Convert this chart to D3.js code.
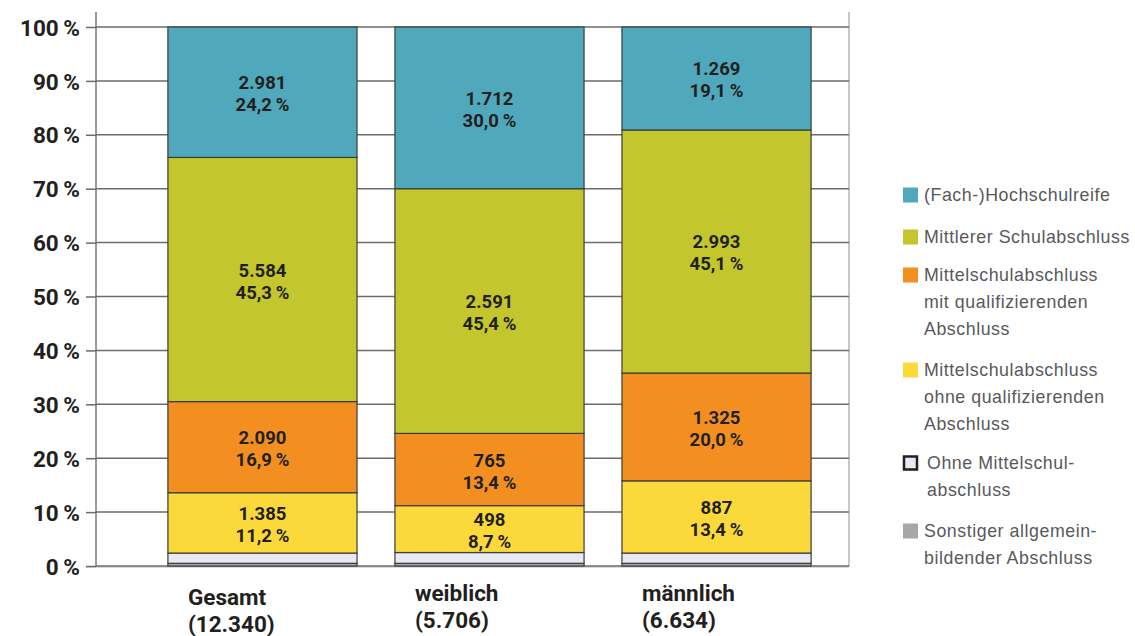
<!DOCTYPE html>
<html>
<head>
<meta charset="utf-8">
<script src="https://cdn.jsdelivr.net/npm/d3@7"></script>
<style>
  body { margin: 0; background: #fff; }
  svg { display: block; font-family: Roboto, "Liberation Sans", sans-serif; }
</style>
</head>
<body>
<div id="chart"></div>
<script>
const groups = ["Gesamt", "weiblich", "männlich"];
const groupTotals = ["(12.340)", "(5.706)", "(6.634)"];
const seriesNames = [
  "Sonstiger allgemein-|bildender Abschluss",
  "Ohne Mittelschul-|abschluss",
  "Mittelschulabschluss|ohne qualifizierenden|Abschluss",
  "Mittelschulabschluss|mit qualifizierenden|Abschluss",
  "Mittlerer Schulabschluss",
  "(Fach-)Hochschulreife"
];
const colors = ["#a7a7a7", "#e9e9f3", "#fbd93b", "#f28f20", "#c4c62d", "#4fa8bb"];
// percent values per series (bottom to top), one per group
const sonstigerPct = [0.5, 0.5, 0.5];
const ohnePct = [1.9, 2.0, 1.9];
const ohneQualiPct = [11.2, 8.7, 13.4];
const mitQualiPct = [16.9, 13.4, 20.0];
const mittlererPct = [45.3, 45.4, 45.1];
const hochschulPct = [24.2, 30.0, 19.1];
// absolute counts (labelled segments only)
const ohneQualiN = ["1.385", "498", "887"];
const mitQualiN = ["2.090", "765", "1.325"];
const mittlererN = ["5.584", "2.591", "2.993"];
const hochschulN = ["2.981", "1.712", "1.269"];
const yTicks = [0, 10, 20, 30, 40, 50, 60, 70, 80, 90, 100];

const pctSeries = [sonstigerPct, ohnePct, ohneQualiPct, mitQualiPct, mittlererPct, hochschulPct];
const countSeries = [null, null, ohneQualiN, mitQualiN, mittlererN, hochschulN];

const W = 1135, H = 636;
const svg = d3.select("#chart").append("svg").attr("width", W).attr("height", H);

const y = d3.scaleLinear().domain([0, 100]).range([566, 27]);
const x = d3.scaleBand().domain(groups).range([130, 849]).paddingInner(0.167).paddingOuter(0.167);

// frame lines
svg.append("line").attr("x1", 96).attr("x2", 96).attr("y1", 12).attr("y2", 566)
  .attr("stroke", "#7a7a7a").attr("stroke-width", 1.5);
svg.append("line").attr("x1", 849).attr("x2", 849).attr("y1", 12).attr("y2", 567)
  .attr("stroke", "#b5b5b5").attr("stroke-width", 1.5);
svg.append("line").attr("x1", 86).attr("x2", 849).attr("y1", 567).attr("y2", 567)
  .attr("stroke", "#cfcfcf").attr("stroke-width", 1.5);

// y axis
const yAxis = svg.append("g").attr("transform", "translate(96,0)")
  .call(d3.axisLeft(y).tickValues(yTicks).tickSize(10).tickPadding(6).tickFormat(d => d + "\u2009%"));
yAxis.select(".domain").remove();
yAxis.selectAll(".tick line").attr("stroke", "#6b6b6b").attr("stroke-width", 1.5);
yAxis.selectAll(".tick text").attr("font-size", 22.5).attr("font-weight", 700).attr("fill", "#231f20")
  .attr("font-family", "Roboto, sans-serif").attr("dy", "0.36em");

// gridlines
svg.append("g").selectAll("line").data(yTicks).join("line")
  .attr("x1", 96).attr("x2", 849).attr("y1", d => y(d)).attr("y2", d => y(d))
  .attr("stroke", "#6b6b6b").attr("stroke-width", 1.5);

// stacked data
const rows = groups.map((g, i) => {
  const r = { group: g };
  pctSeries.forEach((s, k) => r["s" + k] = s[i]);
  return r;
});
const keys = pctSeries.map((s, k) => "s" + k);
const stacked = d3.stack().keys(keys)(rows);

const layers = svg.append("g").selectAll("g").data(stacked).join("g")
  .attr("fill", (d, k) => colors[k]);
layers.selectAll("rect").data(d => d).join("rect")
  .attr("x", d => x(d.data.group))
  .attr("width", x.bandwidth())
  .attr("y", d => y(d[1]))
  .attr("height", d => y(d[0]) - y(d[1]))
  .attr("stroke", "#3c3c3c").attr("stroke-width", 1.2);

// value labels
stacked.forEach((layer, k) => {
  if (!countSeries[k]) return;
  layer.forEach((d, i) => {
    const cx = x(d.data.group) + x.bandwidth() / 2;
    const mid = (y(d[0]) + y(d[1])) / 2;
    const t = svg.append("text").attr("text-anchor", "middle")
      .attr("font-size", 18.5).attr("font-weight", 700).attr("fill", "#231f20");
    t.append("tspan").attr("x", cx).attr("y", mid - 3).text(countSeries[k][i]);
    t.append("tspan").attr("x", cx).attr("y", mid + 19)
      .text(d3.format(".1f")(pctSeries[k][i]).replace(".", ",") + "\u2009%");
  });
});

// x labels
groups.forEach((g, i) => {
  const lx = x(g) + 20;
  svg.append("text").attr("x", lx).attr("y", i === 0 ? 605 : 601)
    .attr("font-size", 22.5).attr("font-weight", 700).attr("fill", "#231f20").text(g);
  svg.append("text").attr("x", lx).attr("y", i === 0 ? 632 : 628)
    .attr("font-size", 22.5).attr("font-weight", 700).attr("fill", "#231f20").text(groupTotals[i]);
});

// legend (top to bottom)
const legendTops = [195, 237, 275, 370, 463, 531];
const legendOrder = [5, 4, 3, 2, 1, 0];
legendOrder.forEach((k, j) => {
  const cy = legendTops[j];
  const g = svg.append("g");
  if (k === 1) {
    g.append("rect").attr("x", 904).attr("y", cy - 6.5).attr("width", 13).attr("height", 13)
      .attr("fill", colors[k]).attr("stroke", "#231f20").attr("stroke-width", 2.5);
  } else {
    g.append("rect").attr("x", 903).attr("y", cy - 7.5).attr("width", 15).attr("height", 15)
      .attr("fill", colors[k]);
  }
  const t = g.append("text").attr("font-size", 17.8).attr("fill", "#58595b")
    .attr("font-family", "'Liberation Sans', Arial, sans-serif").attr("letter-spacing", 0.55);
  seriesNames[k].split("|").forEach((line, li) => {
    t.append("tspan").attr("x", k === 1 ? 927 : 924).attr("y", cy + 6 + li * 27).text(line);
  });
});
</script>
</body>
</html>
